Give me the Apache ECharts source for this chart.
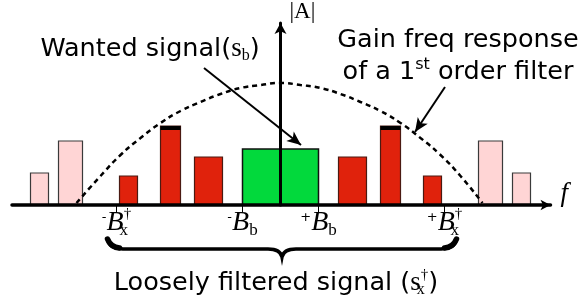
<!DOCTYPE html>
<html>
<head>
<meta charset="utf-8">
<script src="https://cdn.jsdelivr.net/npm/echarts@6/dist/echarts.min.js"></script>
<style>
html, body { margin: 0; padding: 0; background: #fff; }
#chart { width: 580px; height: 303px; }
</style>
</head>
<body>
<div id="chart"></div>
<script>
// spectrum components: band edges and height (0 = centre frequency)
var freqLow   = [-250, -222, -161, -120, -86, -38, 58, 100, 143, 198, 232];
var freqHigh  = [-232, -198, -143, -100, -58, 38, 86, 120, 161, 222, 250];
var amplitude = [32, 64, 29, 79, 48, 56, 48, 79, 29, 64, 32];
var kinds     = ['out', 'out', 'kept', 'kept', 'kept', 'wanted', 'kept', 'kept', 'kept', 'out', 'out'];

// gain response of the filter
var gainFreq  = [-204, -180, -160, -140, -120, -100, -80, -60, -40, -20, 0, 20, 40, 60, 80, 100, 120, 140, 160, 180, 202];
var gainLevel = [2, 29, 50, 67, 82, 94, 103, 111, 117, 120, 122, 120, 117, 111, 103, 94, 82, 67, 50, 29, 2];

var tickValues = [-164, -38, 38, 164];
var tickLabels = ['{pm|-}{B|B}{subw|x}{dag|†}', '{pm|-}{B|B}{sub|b}', '{pm|+}{B|B}{sub|b}', '{pm|+}{B|B}{subw|x}{dag|†}'];

// annotation arrows [from, to]
var wantedArrow = [[-76.5, 137], [20.5, 60]];
var gainArrow = [[164.5, 118], [134.5, 73]];

var chart = echarts.init(document.getElementById('chart'));

var fills = { out: '#ffd5d5', kept: '#e0220c', wanted: '#02d93c' };
var strokes = { out: '#3a3a3a', kept: '#4a1a12', wanted: '#111' };

var maxKept = 0;
for (var i = 0; i < kinds.length; i++) {
	if (kinds[i] == 'kept' && amplitude[i] > maxKept) maxKept = amplitude[i];
}

var barData = [];
for (var i = 0; i < freqLow.length; i++) {
	barData.push([freqLow[i], freqHigh[i], amplitude[i], i]);
}
var curveData = [];
for (var i = 0; i < gainFreq.length; i++) {
	curveData.push([gainFreq[i], gainLevel[i]]);
}

var serif = 'Liberation Serif';
var sans = 'DejaVu Sans';

function renderBar(params, api) {
	var idx = api.value(3);
	var kind = kinds[idx];
	var p0 = api.coord([api.value(0), api.value(2)]);
	var p1 = api.coord([api.value(1), 0]);
	var children = [{
		type: 'rect',
		shape: { x: p0[0], y: p0[1], width: p1[0] - p0[0], height: p1[1] - p0[1] },
		style: { fill: fills[kind], stroke: strokes[kind], lineWidth: kind == 'wanted' ? 1.5 : 1.2 }
	}];
	if (kind == 'kept' && api.value(2) == maxKept) {
		children.push({
			type: 'rect',
			shape: { x: p0[0], y: p0[1], width: p1[0] - p0[0], height: 4 },
			style: { fill: '#000' }
		});
	}
	return { type: 'group', children: children };
}

// curly brace spanning the loosely filtered band
function renderBrace(params, api) {
	var pL = api.coord([api.value(0), 0]);
	var pR = api.coord([api.value(1), 0]);
	var L = pL[0] - 9, R = pR[0] + 12, M = (L + R) / 2;
	var y0 = pL[1] + 34, yh = pL[1] + 44, yt = pL[1] + 52;
	var d = 'M' + L + ',' + y0 +
		' C' + (L + 2) + ',' + (yh - 1) + ' ' + (L + 8) + ',' + yh + ' ' + (L + 20) + ',' + yh +
		' L' + (M - 14) + ',' + yh +
		' C' + (M - 5) + ',' + yh + ' ' + (M - 1) + ',' + (yh + 3) + ' ' + M + ',' + yt +
		' C' + (M + 1) + ',' + (yh + 3) + ' ' + (M + 5) + ',' + yh + ' ' + (M + 14) + ',' + yh +
		' L' + (R - 20) + ',' + yh +
		' C' + (R - 8) + ',' + yh + ' ' + (R - 2) + ',' + (yh - 1) + ' ' + R + ',' + y0;
	// heavier hooks at both ends
	var hooks = 'M' + L + ',' + y0 + ' Q' + (L + 3) + ',' + (yh - 2) + ' ' + (L + 12) + ',' + (yh - 1) +
		' M' + R + ',' + y0 + ' Q' + (R - 3) + ',' + (yh - 2) + ' ' + (R - 12) + ',' + (yh - 1);
	return {
		type: 'group',
		children: [
			{ type: 'path', shape: { pathData: d }, style: { fill: 'none', stroke: '#000', lineWidth: 3.5, lineCap: 'round' } },
			{ type: 'path', shape: { pathData: hooks }, style: { fill: 'none', stroke: '#000', lineWidth: 5.5, lineCap: 'round' } }
		]
	};
}

var noteRich = {
	t: { fontFamily: sans, fontSize: 25.5, lineHeight: 30 },
	s: { fontFamily: serif, fontSize: 27, lineHeight: 30 },
	sub: { fontFamily: serif, fontSize: 16, lineHeight: 14, verticalAlign: 'bottom' },
	subw: { fontFamily: serif, fontSize: 16, lineHeight: 14, verticalAlign: 'bottom', width: 0 },
	dag: { fontFamily: serif, fontSize: 15, lineHeight: 16, verticalAlign: 'top' },
	sup: { fontFamily: sans, fontSize: 16, lineHeight: 17, verticalAlign: 'top' }
};

var option = {
	animation: false,
	grid: { left: 12, right: 29.5, top: 23, height: 182 },
	xAxis: {
		type: 'value',
		min: -268.5,
		max: 270,
		z: 5,
		name: 'f',
		nameLocation: 'end',
		nameGap: 10,
		nameTextStyle: { fontFamily: serif, fontStyle: 'italic', fontSize: 27, color: '#000', verticalAlign: 'bottom', lineHeight: 26, padding: [0, 0, -2, 0] },
		splitLine: { show: false },
		axisLine: { lineStyle: { color: '#000', width: 3.5 }, symbol: ['none', 'arrow'], symbolSize: [8, 10] },
		axisTick: { customValues: tickValues, length: 7, lineStyle: { color: '#000', width: 1 } },
		axisLabel: {
			customValues: tickValues,
			margin: 2,
			color: '#000',
			formatter: function (v) { return tickLabels[tickValues.indexOf(v)]; },
			rich: {
				pm: { fontFamily: sans, fontSize: 13, lineHeight: 14, verticalAlign: 'top', padding: [4, 0, 0, 0] },
				B: { fontFamily: serif, fontStyle: 'italic', fontSize: 28, lineHeight: 32 },
				sub: { fontFamily: serif, fontSize: 17, lineHeight: 15, verticalAlign: 'bottom' },
				subw: { fontFamily: serif, fontSize: 17, lineHeight: 15, verticalAlign: 'bottom', width: 0 },
				dag: { fontFamily: serif, fontSize: 15, lineHeight: 16, verticalAlign: 'top' }
			}
		}
	},
	yAxis: {
		type: 'value',
		min: 0,
		max: 182,
		z: 5,
		name: '|A|',
		nameLocation: 'end',
		nameGap: 0,
		nameTextStyle: { fontFamily: serif, fontSize: 23, color: '#000', align: 'left', verticalAlign: 'bottom', padding: [0, 0, 0, 9] },
		splitLine: { show: false },
		axisTick: { show: false },
		axisLabel: { show: false },
		axisLine: { onZero: true, lineStyle: { color: '#000', width: 3 }, symbol: ['none', 'arrow'], symbolSize: [9, 11] }
	},
	graphic: [
		{
			type: 'text',
			style: { x: 276, y: 283, text: '{t|Loosely filtered signal (}{s|s}{subw|x}{dag|†}{t|)}', rich: noteRich, align: 'center', verticalAlign: 'middle', fill: '#000' }
		},
		{
			type: 'text',
			style: { x: 150, y: 49, text: '{t|Wanted signal(}{s|s}{sub|b}{t|)}', rich: noteRich, align: 'center', verticalAlign: 'middle', fill: '#000' }
		},
		{
			type: 'text',
			style: { x: 458, y: 40, text: '{t|Gain freq response}', rich: noteRich, align: 'center', verticalAlign: 'middle', fill: '#000' }
		},
		{
			type: 'text',
			style: { x: 458, y: 72, text: '{t|of a 1}{sup|st}{t| order filter}', rich: noteRich, align: 'center', verticalAlign: 'middle', fill: '#000' }
		}
	],
	series: [
		{
			type: 'custom',
			renderItem: renderBar,
			encode: { x: [0, 1], y: 2 },
			data: barData,
			z: 2
		},
		{
			type: 'custom',
			renderItem: renderBrace,
			encode: { x: [0, 1], y: 2 },
			data: [[tickValues[0], tickValues[3], 0]],
			clip: false,
			silent: true,
			z: 6
		},
		{
			type: 'line',
			data: curveData,
			smooth: true,
			showSymbol: false,
			z: 3,
			lineStyle: { color: '#000', width: 2.5, type: [5, 4] },
			markLine: {
				silent: true,
				symbol: ['none', 'arrow'],
				symbolSize: [9, 14],
				label: { show: false },
				lineStyle: { color: '#000', width: 2, type: 'solid' },
				data: [
					[{ coord: wantedArrow[0] }, { coord: wantedArrow[1] }],
					[{ coord: gainArrow[0] }, { coord: gainArrow[1] }]
				]
			}
		}
	]
};
chart.setOption(option);
</script>
</body>
</html>
